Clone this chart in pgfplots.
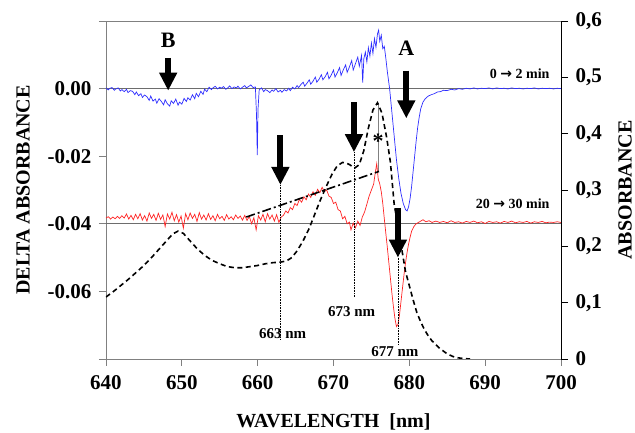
\documentclass[border=0pt]{standalone}
\usepackage{fontspec}
\setmainfont{Liberation Serif}
\newfontfamily\symfont{DejaVu Sans}
\usepackage{pgfplots}
\pgfplotsset{compat=1.18}
\usetikzlibrary{arrows.meta}

\definecolor{bluecurve}{RGB}{45,45,255}
\definecolor{redcurve}{RGB}{255,35,35}
\definecolor{frame}{RGB}{128,128,128}

\tikzset{
  bigarrow/.style={line width=6pt, -{Triangle[length=18pt,width=17pt]}},
  big/.style={font=\fontsize{22}{26}\selectfont\bfseries},
  small/.style={font=\fontsize{14}{16}\selectfont\bfseries},
  nm/.style={font=\fontsize{15}{17}\selectfont\bfseries},
}

\begin{document}
\begin{tikzpicture}
\useasboundingbox (-106pt,-74pt) rectangle (529pt,359pt);

% left axis: delta absorbance
\begin{axis}[
  at={(0,0)}, anchor=south west,
  scale only axis, width=455pt, height=338pt,
  xmin=640, xmax=700, ymin=-0.08, ymax=0.02,
  clip=false, scaled y ticks=false,
  axis line style={frame, line width=0.9pt},
  xtick={640,650,660,670,680,690,700},
  ytick={-0.08,-0.06,-0.04,-0.02,0,0.02},
  yticklabels={,-0.06,-0.04,-0.02,0.00,},
  xtick pos=bottom, ytick pos=left,
  tick align=outside, major tick length=7pt,
  tick style={frame, line width=0.9pt},
  /pgf/number format/assume math mode=true,
  ticklabel style={font=\fontsize{21}{25}\selectfont\bfseries},
  xticklabel style={yshift=-6pt},
  yticklabel style={xshift=-4pt},
  xlabel={WAVELENGTH\ \ [nm]}, ylabel={DELTA ABSORBANCE},
  label style={font=\fontsize{20}{24}\selectfont\bfseries},
  xlabel style={at={(axis description cs:0.5,-0.185)}, anchor=center},
  ylabel style={at={(axis description cs:-0.182,0.5)}, anchor=center},
]
\draw[frame!85!black, line width=0.9pt] (axis cs:640,0) -- (axis cs:700,0);
\draw[frame!85!black, line width=0.9pt] (axis cs:640,-0.04) -- (axis cs:700,-0.04);

% 0 -> 2 min
\addplot[bluecurve, line width=0.7pt] coordinates {
(640.0,0.0002) (640.3,-0.0004) (640.5,0.0001) (640.8,0.0003) (641.1,-0.0005) (641.3,-0.0001)
(641.6,0.0002) (641.9,-0.0007) (642.1,-0.0003) (642.4,-0.0009) (642.7,-0.0002) (642.9,-0.0012)
(643.2,-0.0006) (643.5,-0.0008) (643.8,-0.0018) (644.0,-0.0010) (644.3,-0.0021) (644.6,-0.0015)
(644.8,-0.0026) (645.1,-0.0019) (645.4,-0.0024) (645.7,-0.0035) (645.9,-0.0022) (646.2,-0.0037)
(646.5,-0.0031) (646.7,-0.0043) (647.0,-0.0030) (647.3,-0.0038) (647.6,-0.0048) (647.8,-0.0033)
(648.1,-0.0045) (648.4,-0.0052) (648.6,-0.0036) (648.9,-0.0044) (649.2,-0.0031) (649.5,-0.0049)
(649.7,-0.0040) (650.0,-0.0046) (650.3,-0.0029) (650.6,-0.0038) (650.8,-0.0027) (651.1,-0.0034)
(651.4,-0.0018) (651.7,-0.0030) (651.9,-0.0014) (652.2,-0.0024) (652.5,-0.0008) (652.8,-0.0017)
(653.0,-0.0002) (653.3,-0.0009) (653.6,0.0004) (653.9,-0.0003) (654.1,0.0002) (654.4,0.0007)
(654.7,-0.0001) (655.0,0.0004) (655.2,0.0001) (655.5,0.0006) (655.8,-0.0002) (656.1,0.0003)
(656.3,0.0008) (656.6,0.0000) (656.9,0.0005) (657.2,0.0002) (657.4,0.0007) (657.7,-0.0001)
(658.0,0.0004) (658.3,0.0009) (658.5,0.0002) (658.8,0.0006) (659.1,0.0011) (659.4,0.0003)
(659.7,0.0005) (659.85,-0.0080) (659.95,-0.0197) (660.05,-0.0060) (660.2,-0.0004) (660.5,0.0002)
(660.8,-0.0009) (661.0,-0.0003) (661.3,-0.0006) (661.6,-0.0012) (661.9,-0.0004) (662.1,-0.0008)
(662.4,0.0000) (662.7,-0.0010) (663.0,-0.0005) (663.2,-0.0011) (663.5,-0.0003) (663.8,-0.0007)
(664.1,0.0001) (664.3,-0.0006) (664.6,0.0004) (664.9,-0.0001) (665.2,0.0009) (665.4,0.0003)
(665.7,0.0012) (666.0,0.0019) (666.2,0.0007) (666.5,0.0016) (666.8,0.0026) (667.0,0.0013)
(667.3,0.0022) (667.6,0.0034) (667.8,0.0019) (668.1,0.0028) (668.4,0.0041) (668.6,0.0026)
(668.9,0.0035) (669.2,0.0048) (669.4,0.0029) (669.7,0.0040) (670.0,0.0055) (670.2,0.0034)
(670.5,0.0047) (670.8,0.0062) (671.0,0.0039) (671.3,0.0056) (671.6,0.0070) (671.8,0.0048)
(672.1,0.0064) (672.4,0.0083) (672.6,0.0055) (672.9,0.0074) (673.2,0.0093) (673.4,0.0066)
(673.7,0.0098) (673.85,0.0018) (674.0,0.0088) (674.2,0.0108) (674.4,0.0079) (674.6,0.0121)
(674.8,0.0096) (675.0,0.0135) (675.2,0.0104) (675.4,0.0148) (675.6,0.0122) (675.8,0.0162)
(675.95,0.0173) (676.1,0.0140) (676.3,0.0158) (676.5,0.0118) (676.7,0.0125) (676.9,0.0090)
(677.1,0.0050) (677.4,0.0000) (677.7,-0.0070) (678.0,-0.0140) (678.3,-0.0210) (678.6,-0.0265)
(678.9,-0.0310) (679.2,-0.0340) (679.5,-0.0358) (679.7,-0.0362) (679.9,-0.0350) (680.1,-0.0325)
(680.3,-0.0290) (680.5,-0.0245) (680.7,-0.0200) (680.9,-0.0155) (681.1,-0.0115) (681.3,-0.0085)
(681.5,-0.0060) (681.8,-0.0040) (682.1,-0.0030) (682.5,-0.0022) (682.9,-0.0018) (683.3,-0.0015)
(683.7,-0.0010) (684.1,-0.0009) (684.5,-0.0005) (685.0,-0.0006) (685.5,-0.0002) (686.0,-0.0004)
(686.5,0.0000) (687.0,-0.0002) (687.5,0.0001) (688.0,-0.0001) (688.5,0.0002) (689.0,-0.0001)
(689.5,0.0001) (690.0,0.0000) (690.5,0.0002) (691.0,-0.0001) (691.5,0.0002) (692.0,0.0000)
(692.5,0.0001) (693.0,-0.0001) (693.5,0.0002) (694.0,0.0000) (694.5,0.0001) (695.0,-0.0001)
(695.5,0.0001) (696.0,0.0000) (696.5,0.0002) (697.0,-0.0001) (697.5,0.0001) (698.0,0.0000)
(698.5,0.0001) (699.0,-0.0001) (699.5,0.0001) (700.0,0.0000)
};

% 20 -> 30 min
\addplot[redcurve, line width=0.7pt] coordinates {
(640.0,-0.0383) (640.3,-0.0379) (640.6,-0.0386) (640.9,-0.0380) (641.2,-0.0385) (641.5,-0.0378)
(641.8,-0.0384) (642.1,-0.0376) (642.4,-0.0383) (642.7,-0.0371) (643.0,-0.0386) (643.3,-0.0375)
(643.6,-0.0388) (643.9,-0.0372) (644.2,-0.0385) (644.5,-0.0370) (644.8,-0.0389) (645.1,-0.0376)
(645.4,-0.0392) (645.7,-0.0368) (646.0,-0.0384) (646.3,-0.0372) (646.6,-0.0390) (646.9,-0.0369)
(647.2,-0.0387) (647.5,-0.0374) (647.8,-0.0408) (648.1,-0.0371) (648.4,-0.0386) (648.7,-0.0366)
(649.0,-0.0391) (649.3,-0.0373) (649.6,-0.0395) (649.9,-0.0377) (650.2,-0.0413) (650.5,-0.0370)
(650.8,-0.0388) (651.1,-0.0368) (651.4,-0.0384) (651.7,-0.0372) (652.0,-0.0393) (652.3,-0.0367)
(652.6,-0.0386) (652.9,-0.0374) (653.2,-0.0389) (653.5,-0.0370) (653.8,-0.0387) (654.1,-0.0376)
(654.4,-0.0391) (654.7,-0.0372) (655.0,-0.0385) (655.3,-0.0378) (655.6,-0.0390) (655.9,-0.0373)
(656.2,-0.0386) (656.5,-0.0379) (656.8,-0.0388) (657.1,-0.0374) (657.4,-0.0384) (657.7,-0.0377)
(658.0,-0.0389) (658.3,-0.0375) (658.6,-0.0390) (658.9,-0.0378) (659.2,-0.0400) (659.5,-0.0382)
(659.8,-0.0418) (660.1,-0.0376) (660.4,-0.0389) (660.7,-0.0372) (661.0,-0.0394) (661.3,-0.0370)
(661.6,-0.0386) (661.9,-0.0374) (662.2,-0.0392) (662.5,-0.0373) (662.8,-0.0396) (663.1,-0.0380)
(663.4,-0.0375) (663.7,-0.0362) (664.0,-0.0368) (664.3,-0.0352) (664.6,-0.0358) (664.9,-0.0340)
(665.2,-0.0346) (665.5,-0.0328) (665.8,-0.0336) (666.1,-0.0320) (666.4,-0.0329) (666.7,-0.0312)
(667.0,-0.0322) (667.3,-0.0305) (667.6,-0.0316) (667.9,-0.0298) (668.2,-0.0308) (668.5,-0.0292)
(668.8,-0.0305) (669.1,-0.0300) (669.4,-0.0318) (669.7,-0.0322) (670.0,-0.0340) (670.3,-0.0336)
(670.6,-0.0358) (670.9,-0.0362) (671.2,-0.0385) (671.5,-0.0378) (671.8,-0.0400) (672.1,-0.0395)
(672.3,-0.0418) (672.6,-0.0398) (672.9,-0.0412) (673.2,-0.0392) (673.5,-0.0405) (673.8,-0.0380)
(674.1,-0.0365) (674.4,-0.0342) (674.7,-0.0318) (675.0,-0.0300) (675.3,-0.0282) (675.5,-0.0250)
(675.7,-0.0222) (675.9,-0.0268) (676.1,-0.0282) (676.3,-0.0305) (676.5,-0.0340) (676.7,-0.0385)
(676.9,-0.0428) (677.1,-0.0470) (677.3,-0.0515) (677.5,-0.0560) (677.7,-0.0605) (677.9,-0.0645)
(678.1,-0.0680) (678.3,-0.0704) (678.5,-0.0698) (678.7,-0.0670) (678.9,-0.0630) (679.1,-0.0590)
(679.3,-0.0550) (679.5,-0.0515) (679.7,-0.0485) (679.9,-0.0460) (680.1,-0.0440) (680.3,-0.0422)
(680.6,-0.0408) (680.9,-0.0400) (681.2,-0.0396) (681.5,-0.0392) (681.8,-0.0388) (682.2,-0.0394)
(682.6,-0.0391) (683.0,-0.0396) (683.5,-0.0392) (684.0,-0.0396) (684.5,-0.0393) (685.0,-0.0397)
(685.5,-0.0391) (686.0,-0.0396) (686.5,-0.0394) (687.0,-0.0398) (687.5,-0.0393) (688.0,-0.0396)
(688.5,-0.0392) (689.0,-0.0397) (689.5,-0.0394) (690.0,-0.0399) (690.5,-0.0393) (691.0,-0.0396)
(691.5,-0.0394) (692.0,-0.0398) (692.5,-0.0393) (693.0,-0.0396) (693.5,-0.0392) (694.0,-0.0397)
(694.5,-0.0394) (695.0,-0.0396) (695.5,-0.0393) (696.0,-0.0398) (696.5,-0.0394) (697.0,-0.0396)
(697.5,-0.0393) (698.0,-0.0397) (698.5,-0.0395) (699.0,-0.0396) (699.5,-0.0394) (700.0,-0.0396)
};

% markers and labels
\draw[densely dotted, line width=0.6pt] (axis cs:663,-0.0285) -- (axis cs:663,-0.0741);
\draw[densely dotted, line width=0.6pt] (axis cs:672.7,-0.0188) -- (axis cs:672.7,-0.0615);
\draw[densely dotted, line width=0.6pt] (axis cs:678.5,-0.0500) -- (axis cs:678.5,-0.0756);
\draw[gray, line width=0.6pt] (axis cs:675.9,-0.0044) -- (axis cs:675.9,-0.0247);

\draw[bigarrow] (axis cs:648.2,0.0091) -- (axis cs:648.2,-0.0006);
\draw[bigarrow] (axis cs:679.6,0.0053) -- (axis cs:679.6,-0.0088);
\draw[bigarrow] (axis cs:663,-0.0138) -- (axis cs:663,-0.0285);
\draw[bigarrow] (axis cs:672.7,-0.0041) -- (axis cs:672.7,-0.0188);
\draw[bigarrow] (axis cs:678.5,-0.0353) -- (axis cs:678.5,-0.0500);

\node[big] at (axis cs:648.2,0.0144) {B};
\node[big] at (axis cs:679.6,0.0120) {A};
\node[big] at (axis cs:675.9,-0.0155) {*};
\node[small, anchor=east] at (axis cs:698.95,0.0044) {0 {\symfont\bfseries →} 2 min};
\node[small, anchor=east] at (axis cs:698.95,-0.0340) {20 {\symfont\bfseries →} 30 min};
\node[nm] at (axis cs:663.3,-0.0726) {663 nm};
\node[nm] at (axis cs:672.4,-0.0659) {673 nm};
\node[nm] at (axis cs:678.1,-0.0779) {677 nm};
\end{axis}

% right axis: absorbance
\begin{axis}[
  at={(0,0)}, anchor=south west,
  scale only axis, width=455pt, height=338pt,
  xmin=640, xmax=700, ymin=0, ymax=0.6,
  axis x line=none, axis y line*=right,
  axis line style={black, line width=0.9pt, -},
  ytick={0,0.1,0.2,0.3,0.4,0.5,0.6},
  yticklabels={0,{0,1},{0,2},{0,3},{0,4},{0,5},{0,6}},
  tick align=outside, major tick length=7pt,
  tick style={black, line width=0.9pt},
  ticklabel style={font=\fontsize{21}{25}\selectfont\bfseries},
  yticklabel style={xshift=4pt},
  ylabel={ABSORBANCE},
  label style={font=\fontsize{20}{24}\selectfont\bfseries},
  ylabel style={at={(axis description cs:1.141,0.5)}, anchor=center, rotate=0},
]
\addplot[black, line width=1.6pt, dash pattern=on 5pt off 3.5pt] coordinates {
(640,0.110) (641,0.120) (642,0.131) (643,0.142) (644,0.154) (645,0.166) (646,0.180)
(647,0.195) (648,0.210) (648.8,0.222) (649.5,0.227) (650.2,0.223) (651,0.211) (652,0.196)
(653,0.184) (654,0.175) (655,0.169) (656,0.164) (657,0.162) (658,0.162) (659,0.164)
(660,0.166) (661,0.169) (662,0.171) (663,0.172) (663.8,0.174) (664.5,0.180) (665.2,0.192)
(666,0.210) (666.8,0.232) (667.5,0.256) (668.2,0.280) (669,0.305) (669.8,0.328) (670.5,0.343)
(671.2,0.349) (672,0.346) (672.8,0.339) (673.4,0.345) (674,0.370) (674.6,0.410) (675.2,0.442)
(675.8,0.455) (676.4,0.436) (677,0.394) (677.5,0.350) (678,0.275) (678.5,0.235) (679,0.195)
(679.5,0.155) (680,0.130) (680.5,0.105) (681,0.082) (681.5,0.066) (682,0.052) (682.5,0.041)
(683,0.032) (684,0.019) (685,0.009) (686,0.003) (687,0.001) (688,0.000)
};
\addplot[black, line width=1.6pt, dash pattern=on 9pt off 3pt on 2pt off 3pt] coordinates {
(658.5,0.252) (676,0.333)
};
\end{axis}
\end{tikzpicture}
\end{document}
